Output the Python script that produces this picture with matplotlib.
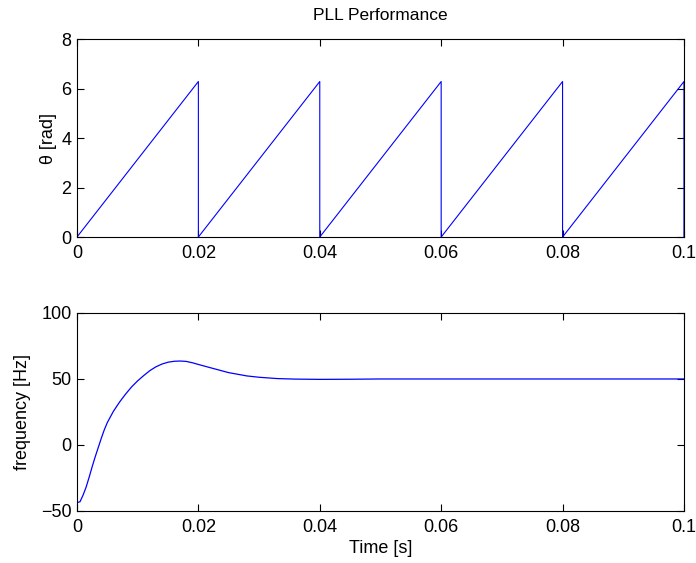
import numpy as np
import matplotlib.pyplot as plt

plt.rcParams['font.family'] = ['Liberation Sans', 'DejaVu Sans']
plt.rcParams['font.size'] = 13

# sawtooth vertices of the phase angle (rad)
theta_t = [0, 0.02, 0.02, 0.04, 0.04, 0.06, 0.06, 0.08, 0.08, 0.1, 0.1]
theta_v = [0, 6.283, 0, 6.283, 0, 6.283, 0, 6.283, 0, 6.283, 0]

# estimated frequency (Hz)
freq_t = [0, 0.0005, 0.001, 0.0015, 0.002, 0.0025, 0.003, 0.0035, 0.004, 0.0045,
          0.005, 0.006, 0.007, 0.008, 0.009, 0.010, 0.011, 0.012, 0.013, 0.014,
          0.015, 0.016, 0.017, 0.018, 0.019, 0.020, 0.022, 0.025, 0.028, 0.030,
          0.033, 0.036, 0.040, 0.045, 0.05, 0.1]
freq_v = [-43.7, -43, -38, -32, -24.5, -16.5, -9, -2, 5, 11.5,
          17, 25.5, 32.4, 38.5, 44, 48.6, 52.6, 56.3, 59.2, 61.3,
          62.7, 63.4, 63.6, 63.3, 62.3, 61, 58.5, 54.8, 52.3, 51.3,
          50.3, 49.9, 49.7, 49.8, 50, 50]

xticks = [0, 0.02, 0.04, 0.06, 0.08, 0.1]
xticklabels = ['0', '0.02', '0.04', '0.06', '0.08', '0.1']

fig = plt.figure(figsize=(6.96, 5.63), dpi=100)
ax1 = fig.add_axes([0.1106, 0.5790, 0.8721, 0.3517])
ax2 = fig.add_axes([0.1106, 0.0924, 0.8721, 0.3517])

ax1.plot(theta_t, theta_v, color='#0000ff', linewidth=0.8)
ax1.set_ylim(0, 8)
ax1.set_yticks([0, 2, 4, 6, 8])
ax1.set_ylabel('θ [rad]', labelpad=3)
ax1.set_title('PLL Performance', fontsize=12.5, pad=14)

ax2.plot(freq_t, freq_v, color='#0000ff', linewidth=0.9)
ax2.set_ylim(-50, 100)
ax2.set_yticks([-50, 0, 50, 100])
ax2.set_ylabel('frequency [Hz]', labelpad=7)
ax2.set_xlabel('Time [s]', labelpad=3)

for ax in (ax1, ax2):
    ax.set_xlim(0, 0.1)
    ax.set_xticks(xticks)
    ax.set_xticklabels(xticklabels)
    ax.tick_params(direction='in', top=True, right=True, length=5, width=0.8, pad=4)
    ax.tick_params(axis='x', pad=6)
    for s in ax.spines.values():
        s.set_linewidth(0.8)

fig.savefig('out.png', dpi=100)
